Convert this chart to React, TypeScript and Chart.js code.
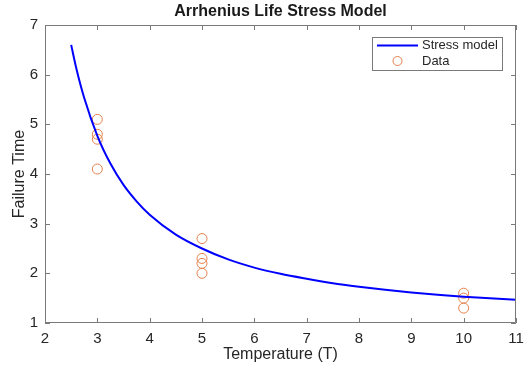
import React, { useEffect, useRef } from "react";
import { Chart, registerables } from "chart.js";

Chart.register(...registerables);

const modelT = [2.5, 2.6, 2.75, 3, 3.25, 3.5, 3.75, 4, 4.5, 5, 5.5, 6, 6.5, 7, 7.5, 8, 8.5, 9, 9.5, 10, 10.5, 11];
const modelLife = [6.6, 6.12, 5.53, 4.77, 4.21, 3.78, 3.45, 3.18, 2.78, 2.5, 2.28, 2.115, 1.99, 1.89, 1.8, 1.73, 1.67, 1.615, 1.57, 1.53, 1.5, 1.47];

const dataT = [3, 3, 3, 3, 5, 5, 5, 5, 10, 10, 10];
const dataLife = [5.1, 4.8, 4.7, 4.1, 2.7, 2.3, 2.2, 2.0, 1.6, 1.5, 1.3];

const xTicks = [2, 3, 4, 5, 6, 7, 8, 9, 10, 11];
const yTicks = [1, 2, 3, 4, 5, 6, 7];

const TITLE = "Arrhenius Life Stress Model";
const FONT = "'Liberation Sans', Arial, Helvetica, sans-serif";
const ORANGE = "#E4814D";
const BLUE = "#0000FF";
const AXIS = "#7a7a7a";

const framePlugin = {
  id: "frame",
  afterDraw(chart: any) {
    const { ctx, chartArea } = chart;
    const { left, right, top, bottom } = chartArea;
    const xs = chart.scales.x;
    const ys = chart.scales.y;
    ctx.save();
    ctx.strokeStyle = AXIS;
    ctx.lineWidth = 1;
    ctx.beginPath();
    ctx.rect(left + 0.5, top + 0.5, right - left - 1, bottom - top - 1);
    ctx.stroke();
    const tl = 5;
    ctx.beginPath();
    xTicks.forEach((v) => {
      const px = Math.round(xs.getPixelForValue(v)) + 0.5;
      ctx.moveTo(px, bottom);
      ctx.lineTo(px, bottom - tl);
      ctx.moveTo(px, top);
      ctx.lineTo(px, top + tl);
    });
    yTicks.forEach((v) => {
      const py = Math.round(ys.getPixelForValue(v)) + 0.5;
      ctx.moveTo(left, py);
      ctx.lineTo(left + tl, py);
      ctx.moveTo(right, py);
      ctx.lineTo(right - tl, py);
    });
    ctx.stroke();

    // title
    ctx.fillStyle = "#1a1a1a";
    ctx.font = `bold 16px ${FONT}`;
    ctx.textAlign = "center";
    ctx.textBaseline = "middle";
    ctx.fillText(TITLE, (left + right) / 2, 12);

    // legend
    const lx = 372, ly = 37, lw = 130, lh = 33;
    ctx.fillStyle = "#ffffff";
    ctx.fillRect(lx, ly, lw, lh);
    ctx.strokeStyle = AXIS;
    ctx.strokeRect(lx + 0.5, ly + 0.5, lw, lh);
    const ds = chart.data.datasets;
    ctx.strokeStyle = BLUE;
    ctx.lineWidth = 2;
    ctx.beginPath();
    ctx.moveTo(377, 45.5);
    ctx.lineTo(418, 45.5);
    ctx.stroke();
    ctx.strokeStyle = ORANGE;
    ctx.lineWidth = 1;
    ctx.beginPath();
    ctx.arc(397.5, 61, 4.5, 0, Math.PI * 2);
    ctx.stroke();
    ctx.fillStyle = "#262626";
    ctx.font = `13px ${FONT}`;
    ctx.textAlign = "left";
    ctx.fillText(ds[0].label, 422, 45.5);
    ctx.fillText(ds[1].label, 422, 61.5);
    ctx.restore();
  },
};

export default function App() {
  const ref = useRef<HTMLCanvasElement>(null);
  useEffect(() => {
    if (!ref.current) return;
    const chart = new Chart(ref.current, {
      type: "scatter",
      data: {
        datasets: [
          {
            label: "Stress model",
            type: "line",
            data: modelT.map((t, i) => ({ x: t, y: modelLife[i] })),
            borderColor: BLUE,
            borderWidth: 2,
            pointRadius: 0,
            cubicInterpolationMode: "monotone",
            fill: false,
          } as any,
          {
            label: "Data",
            data: dataT.map((t, i) => ({ x: t, y: dataLife[i] })),
            borderColor: ORANGE,
            backgroundColor: "rgba(0,0,0,0)",
            pointRadius: 5,
            pointBorderWidth: 1,
            pointStyle: "circle",
          },
        ],
      },
      options: {
        animation: false,
        responsive: false,
        maintainAspectRatio: false,
        layout: { padding: { top: 25, right: 0, left: 0, bottom: 0 } },
        plugins: { legend: { display: false }, tooltip: { enabled: false }, title: { display: false } },
        scales: {
          x: {
            type: "linear",
            min: 2,
            max: 11,
            afterBuildTicks: (s: any) => { s.ticks = xTicks.map((v) => ({ value: v })); },
            afterFit: (s: any) => { s.height = 50; s.paddingRight = 9; },
            grid: { display: false, drawTicks: false },
            border: { display: false },
            ticks: { color: "#262626", font: { family: FONT, size: 15 }, padding: 7, maxRotation: 0 },
            title: { display: true, text: "Temperature (T)", color: "#262626", font: { family: FONT, size: 16 }, padding: { top: 0, bottom: 9 } },
          },
          y: {
            type: "linear",
            min: 1,
            max: 7,
            afterBuildTicks: (s: any) => { s.ticks = yTicks.map((v) => ({ value: v })); },
            afterFit: (s: any) => { s.width = 45; },
            grid: { display: false, drawTicks: false },
            border: { display: false },
            ticks: { color: "#262626", font: { family: FONT, size: 15 }, padding: 7 },
            title: { display: true, text: "Failure Time", color: "#262626", font: { family: FONT, size: 16 }, padding: { top: 10, bottom: 0 } },
          },
        },
      },
      plugins: [framePlugin],
    });
    return () => chart.destroy();
  }, []);
  return (
    <div style={{ position: "fixed", left: 0, top: 0, width: 525, height: 373, background: "#fff" }}>
      <canvas ref={ref} width={525} height={373} style={{ width: 525, height: 373 }} />
    </div>
  );
}
